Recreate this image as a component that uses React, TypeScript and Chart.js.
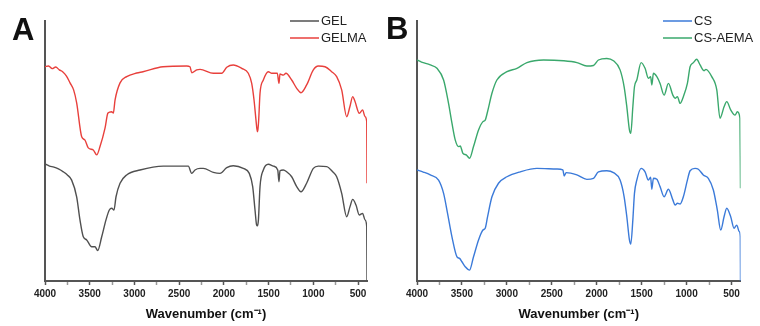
import React, { useEffect, useRef } from "react";
import { Chart, registerables } from "chart.js";

Chart.register(...registerables);

// ---------- DATA (wavenumber in cm-1, relative transmittance in a.u.) ----------
const gelWn = [4000, 3950, 3900, 3850, 3795, 3750, 3702, 3646, 3609, 3572, 3534, 3478, 3441, 3411, 3366, 3318, 3281, 3254, 3229, 3206, 3161, 3087, 2938, 2677, 2398, 2360, 2323, 2267, 2230, 2118, 2043, 1968, 1895, 1783, 1716, 1678, 1652, 1634, 1625, 1614, 1596, 1559, 1503, 1447, 1398, 1384, 1373, 1336, 1298, 1242, 1186, 1138, 1075, 1000, 944, 850, 783, 739, 683, 627, 590, 560, 523, 486, 449, 422, 403, 400];
const gelT = [45.0, 44.2, 43.8, 43.1, 42.0, 40.8, 38.8, 32.4, 23.5, 17.0, 15.8, 13.2, 13.2, 11.7, 17.0, 23.5, 27.3, 28.0, 27.3, 32.4, 37.6, 40.8, 42.7, 44.2, 44.2, 41.4, 42.7, 43.3, 43.3, 41.8, 41.4, 43.6, 44.3, 43.3, 41.4, 36.3, 27.3, 21.5, 21.2, 23.5, 36.3, 42.7, 44.9, 44.2, 42.7, 38.2, 42.4, 42.7, 42.0, 40.1, 36.3, 34.3, 37.6, 43.3, 44.2, 44.0, 42.0, 40.1, 33.7, 24.7, 28.6, 31.4, 29.2, 25.4, 26.0, 23.5, 20.9, 0];

const gelmaWn = [4000, 3960, 3920, 3880, 3840, 3800, 3760, 3720, 3680, 3646, 3590, 3553, 3516, 3460, 3422, 3385, 3329, 3296, 3254, 3236, 3217, 3161, 3087, 2975, 2904, 2681, 2416, 2379, 2360, 2304, 2267, 2118, 2024, 1968, 1895, 1801, 1727, 1689, 1663, 1641, 1626, 1620, 1611, 1596, 1559, 1503, 1465, 1403, 1384, 1373, 1336, 1306, 1242, 1186, 1138, 1075, 1000, 944, 869, 795, 739, 683, 627, 590, 560, 534, 486, 449, 422, 403, 400];
const gelmaT = [82.4, 82.7, 81.7, 82.3, 81.2, 80.4, 78.8, 76.2, 73.5, 68.5, 55.5, 54.2, 51.2, 50.4, 48.5, 51.7, 58.8, 64.6, 65.1, 64.6, 69.6, 76.2, 78.6, 80.0, 80.5, 82.4, 82.7, 82.4, 80.1, 81.2, 81.4, 79.9, 79.9, 82.2, 83.1, 81.8, 79.9, 76.0, 69.6, 61.9, 57.4, 58.1, 61.9, 72.2, 77.3, 80.5, 79.9, 79.9, 76.0, 79.6, 79.2, 79.9, 77.3, 74.1, 72.4, 75.4, 81.2, 82.7, 82.4, 80.5, 78.6, 73.5, 63.2, 67.2, 70.9, 69.0, 64.5, 65.8, 63.2, 61.3, 37.6];

const csWn = [4000, 3930, 3852, 3760, 3704, 3660, 3611, 3555, 3526, 3500, 3463, 3415, 3371, 3315, 3266, 3241, 3215, 3166, 3093, 2999, 2851, 2666, 2443, 2377, 2362, 2340, 2221, 2110, 2036, 1981, 1888, 1814, 1740, 1695, 1665, 1636, 1621, 1598, 1580, 1554, 1506, 1462, 1425, 1400, 1387, 1369, 1331, 1295, 1250, 1202, 1153, 1128, 1102, 1072, 1036, 991, 961, 906, 869, 814, 758, 702, 658, 620, 583, 553, 509, 472, 442, 414, 402, 400];
const csT = [42.7, 41.9, 40.8, 38.8, 33.7, 26.0, 17.0, 9.3, 8.7, 7.4, 5.5, 4.2, 9.3, 15.8, 19.6, 20.3, 24.7, 32.4, 37.6, 40.1, 42.0, 43.3, 43.1, 42.7, 40.4, 41.7, 40.8, 39.1, 39.5, 42.0, 42.4, 41.7, 38.8, 32.4, 24.7, 15.8, 14.2, 23.5, 33.7, 38.8, 43.3, 42.0, 38.8, 39.9, 35.3, 39.5, 39.1, 36.3, 32.4, 35.3, 31.2, 29.2, 29.9, 29.6, 32.4, 38.8, 42.4, 43.3, 43.0, 40.8, 39.5, 35.0, 27.3, 19.6, 24.7, 28.0, 24.7, 20.3, 21.5, 19.0, 17.0, 0];

const csAemaWn = [4000, 3950, 3852, 3778, 3704, 3649, 3611, 3574, 3537, 3519, 3489, 3452, 3415, 3371, 3315, 3266, 3241, 3215, 3166, 3111, 2999, 2888, 2777, 2592, 2370, 2221, 2110, 2036, 1981, 1888, 1814, 1740, 1695, 1665, 1636, 1621, 1598, 1580, 1554, 1506, 1462, 1425, 1400, 1387, 1369, 1331, 1295, 1250, 1202, 1153, 1128, 1102, 1072, 1036, 991, 961, 924, 887, 850, 805, 785, 720, 664, 628, 583, 553, 509, 461, 435, 406, 400];
const csAemaT = [85.0, 84.2, 83.1, 81.8, 77.3, 68.3, 60.7, 54.2, 51.7, 51.9, 49.1, 48.5, 47.2, 51.7, 58.1, 61.3, 61.9, 65.1, 72.2, 77.3, 80.5, 81.8, 84.0, 85.0, 84.7, 84.0, 82.7, 82.9, 85.0, 85.6, 84.7, 81.2, 74.7, 67.0, 58.1, 56.8, 67.0, 74.7, 77.3, 84.0, 81.8, 78.0, 78.6, 75.4, 79.9, 78.6, 76.0, 71.5, 76.0, 71.5, 70.3, 70.9, 68.3, 70.9, 76.0, 82.4, 84.0, 85.3, 83.1, 80.9, 81.4, 78.6, 73.5, 62.6, 67.0, 69.0, 65.8, 63.8, 65.1, 62.6, 35.7];

const xTickValues = [4000, 3750, 3500, 3250, 3000, 2750, 2500, 2250, 2000, 1750, 1500, 1250, 1000, 750, 500];
const xLabeledTicks = [4000, 3500, 3000, 2500, 2000, 1500, 1000, 500];
const xAxisTitle = "Wavenumber (cm\u207B\u00B9)";

const FONT = '"Liberation Sans", Arial, Helvetica, sans-serif';

const decoPlugin = {
  id: "panelDeco",
  afterDraw(chart: any, _args: any, opts: any) {
    const ctx = chart.ctx;
    ctx.save();
    ctx.fillStyle = "#111";
    ctx.font = `bold 31px ${FONT}`;
    ctx.textBaseline = "alphabetic";
    ctx.textAlign = "left";
    ctx.fillText(opts.letter, opts.letterX, opts.letterY);
    ctx.font = `13px ${FONT}`;
    ctx.textBaseline = "middle";
    chart.data.datasets.forEach((ds: any, i: number) => {
      const y = opts.legendY + i * opts.legendGap;
      ctx.strokeStyle = ds.borderColor;
      ctx.lineWidth = 1.5;
      ctx.beginPath();
      ctx.moveTo(opts.legendX, y);
      ctx.lineTo(opts.legendX + opts.legendLine, y);
      ctx.stroke();
      ctx.fillStyle = "#222";
      ctx.fillText(ds.label, opts.legendX + opts.legendLine + 2, y + 0.5);
    });
    ctx.restore();
  },
};

function makeChart(
  canvas: HTMLCanvasElement,
  series: { label: string; wn: number[]; t: number[]; color: string }[],
  pad: { left: number; right: number },
  deco: any
) {
  return new Chart(canvas, {
    type: "line",
    data: {
      datasets: series.map((s) => ({
        label: s.label,
        data: s.wn.map((w, i) => ({ x: w, y: s.t[i] })),
        borderColor: s.color,
        borderWidth: 1.4,
        pointRadius: 0,
        cubicInterpolationMode: "monotone",
        fill: false,
      })),
    },
    options: {
      responsive: false,
      animation: false,
      events: [],
      layout: { padding: { left: pad.left, right: pad.right, top: 21, bottom: 0 } },
      plugins: {
        legend: { display: false },
        tooltip: { enabled: false },
        panelDeco: deco,
      } as any,
      scales: {
        x: {
          type: "linear",
          reverse: true,
          min: 400,
          max: 4000,
          afterBuildTicks: (scale: any) => {
            scale.ticks = xTickValues.map((v) => ({ value: v }));
          },
          afterFit: (scale: any) => {
            scale.height = 45;
          },
          ticks: {
            autoSkip: false,
            maxRotation: 0,
            padding: 3,
            color: "#222",
            font: { family: FONT, size: 10, weight: "bold" },
            callback: (v: any) => (xLabeledTicks.includes(Number(v)) ? String(v) : ""),
          },
          grid: {
            display: true,
            drawOnChartArea: false,
            drawTicks: true,
            tickLength: 4,
            tickColor: (c: any) => (xLabeledTicks.includes(c.tick?.value) ? "#555" : "#999"),
            tickWidth: 1.5,
          },
          border: { display: true, color: "#555", width: 2 },
          title: {
            display: true,
            text: xAxisTitle,
            color: "#111",
            font: { family: FONT, size: 13, weight: "bold" },
            padding: { top: 0, bottom: 4 },
          },
        },
        y: {
          type: "linear",
          min: 0,
          max: 100,
          afterFit: (scale: any) => {
            scale.width = 0;
          },
          ticks: { display: false },
          grid: { display: true, drawOnChartArea: false, drawTicks: false },
          border: { display: true, color: "#555", width: 2 },
        },
      },
    } as any,
    plugins: [decoPlugin as any],
  });
}

export default function App() {
  const refA = useRef<HTMLCanvasElement>(null);
  const refB = useRef<HTMLCanvasElement>(null);

  useEffect(() => {
    const a = makeChart(
      refA.current!,
      [
        { label: "GEL", wn: gelWn, t: gelT, color: "#505050" },
        { label: "GELMA", wn: gelmaWn, t: gelmaT, color: "#e8403c" },
      ],
      { left: 45, right: 13 },
      { letter: "A", letterX: 12, letterY: 40, legendX: 290, legendLine: 29, legendY: 21, legendGap: 17 }
    );
    const b = makeChart(
      refB.current!,
      [
        { label: "CS", wn: csWn, t: csT, color: "#3b7ad9" },
        { label: "CS-AEMA", wn: csAemaWn, t: csAemaT, color: "#3aa86c" },
      ],
      { left: 37, right: 19.5 },
      { letter: "B", letterX: 6, letterY: 39, legendX: 283, legendLine: 29, legendY: 21, legendGap: 17 }
    );
    return () => {
      a.destroy();
      b.destroy();
    };
  }, []);

  return (
    <div style={{ position: "absolute", left: 0, top: 0, width: 760, height: 326, background: "#fff" }}>
      <canvas ref={refA} width={380} height={326} style={{ position: "absolute", left: 0, top: 0, width: 380, height: 326 }} />
      <canvas ref={refB} width={380} height={326} style={{ position: "absolute", left: 380, top: 0, width: 380, height: 326 }} />
    </div>
  );
}
